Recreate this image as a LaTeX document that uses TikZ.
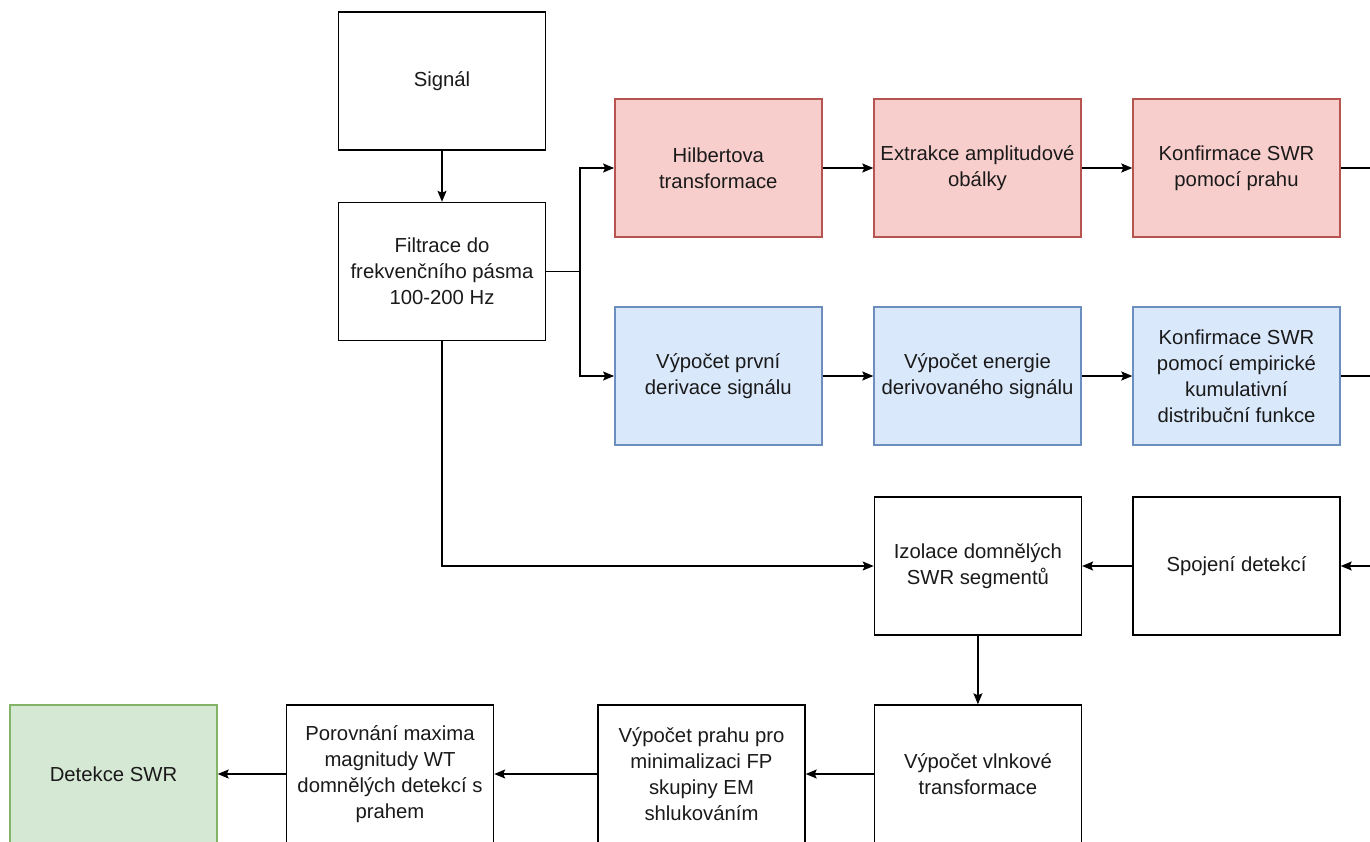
\documentclass[tikz,border=0pt]{standalone}
\usepackage{fontspec}
\setmainfont{Liberation Sans}
\usetikzlibrary{arrows.meta,calc}
\definecolor{redfill}{HTML}{F8CECC}
\definecolor{redline}{HTML}{B85450}
\definecolor{bluefill}{HTML}{DAE8FC}
\definecolor{blueline}{HTML}{6C8EBF}
\definecolor{greenfill}{HTML}{D5E8D4}
\definecolor{greenline}{HTML}{82B366}
\definecolor{txt}{HTML}{1A1A1A}
\tikzset{
  box/.style={draw=black, fill=white, line width=1.4pt, minimum width=207pt, minimum height=138pt,
    inner sep=2pt, align=center, text=txt,
    font=\fontsize{20.3pt}{26pt}\selectfont},
  redbox/.style={box, draw=redline, fill=redfill},
  bluebox/.style={box, draw=blueline, fill=bluefill},
  greenbox/.style={box, draw=greenline, fill=greenfill},
  conn/.style={line width=1.4pt, draw=black},
  arr/.style={conn, -{Stealth[length=11pt,width=9pt,inset=2pt]}}
}
\begin{document}
\begin{tikzpicture}[x=1pt,y=-1pt]
\useasboundingbox (0,0) rectangle (1370,841);
\clip (0,0) rectangle (1370,841);

% top column
\node[box] (sig) at (442,81) {Signál};
\node[box] (filt) at (442,271.5) {Filtrace do\\frekvenčního pásma\\100-200 Hz};

% envelope branch
\node[redbox] (hil) at (718.3,168) {Hilbertova\\transformace};
\node[redbox] (ext) at (977.5,168) {Extrakce amplitudové\\obálky};
\node[redbox] (kon1) at (1236.5,168) {Konfirmace SWR\\pomocí prahu};

% derivative branch
\node[bluebox] (der) at (718.3,376) {Výpočet první\\derivace signálu};
\node[bluebox] (ene) at (977.5,376) {Výpočet energie\\derivovaného signálu};
\node[bluebox] (kon2) at (1236.5,376) {Konfirmace SWR\\pomocí empirické\\kumulativní\\distribuční funkce};

% merging
\node[box] (izo) at (977.9,566) {Izolace domnělých\\SWR segmentů};
\node[box] (spo) at (1236.5,566) {Spojení detekcí};

% bottom row
\node[box] (wav) at (977.9,774) {Výpočet vlnkové\\transformace};
\node[box] (thr) at (701.5,774) {Výpočet prahu pro\\minimalizaci FP\\skupiny EM\\shlukováním};
\node[box] (cmp) at (390,774) {Porovnání maxima\\magnitudy WT\\domnělých detekcí s\\prahem};
\node[greenbox] (det) at (113.5,774) {Detekce SWR};

% junction points
\coordinate (split) at (580,271.5);
\coordinate (join) at (1395,566);

% connectors
\draw[arr] (sig) -- (filt);
\draw[conn] (filt.east) -- (split);
\draw[arr] (split) |- (hil.west);
\draw[arr] (split) |- (der.west);
\draw[arr] (filt.south) |- (izo.west);

\draw[arr] (hil) -- (ext);
\draw[arr] (ext) -- (kon1);
\draw[conn] (kon1.east) -| (join);
\draw[arr] (der) -- (ene);
\draw[arr] (ene) -- (kon2);
\draw[conn] (kon2.east) -| (join);
\draw[arr] (join) -- (spo.east);

\draw[arr] (spo) -- (izo);
\draw[arr] (izo) -- (wav);
\draw[arr] (wav) -- (thr);
\draw[arr] (thr) -- (cmp);
\draw[arr] (cmp) -- (det);
\end{tikzpicture}
\end{document}
